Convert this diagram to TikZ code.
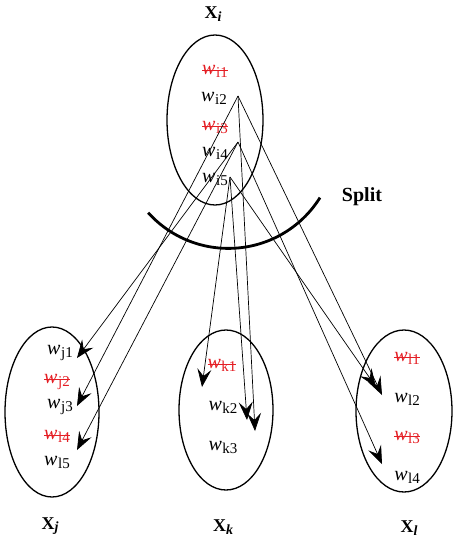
\documentclass[tikz,border=0pt]{standalone}
\usepackage{fontspec}
\setmainfont{Liberation Serif}
\usetikzlibrary{arrows.meta,shapes.geometric}
\definecolor{delred}{RGB}{228,30,36}
\newcommand\wsub[1]{\textit{w}\kern0.5pt\raisebox{-3pt}{\fontsize{15}{15}\selectfont #1}}
\newcommand\wdel[1]{\setbox0=\hbox{\wsub{#1}}\rlap{\rule[3.2pt]{\wd0}{0.8pt}}\box0}
\newcommand\setlab[1]{\textbf{X}\raisebox{-2.5pt}{\fontsize{14}{14}\selectfont\bfseries\itshape #1}}
\begin{document}
\begin{tikzpicture}[x=1pt,y=-1pt,
  setbox/.style={draw, ellipse, line width=1.3pt, inner sep=0pt},
  word/.style={font=\fontsize{20}{20}\selectfont, inner sep=0pt, text=black},
  delword/.style={word, text=delred},
  lab/.style={font=\fontsize{18}{18}\selectfont, inner sep=0pt},
  conn/.style={line width=0.7pt, -{Stealth[length=18pt,width=14pt,inset=7pt]}}]
\useasboundingbox (0,0) rectangle (456,541);
% sets
\node[setbox, minimum width=96pt, minimum height=170pt] (Xi) at (215,120) {};
\node[setbox, minimum width=94pt, minimum height=170pt] (Xj) at (52,412) {};
\node[setbox, minimum width=94pt, minimum height=160pt] (Xk) at (226,410) {};
\node[setbox, minimum width=96pt, minimum height=162pt] (Xl) at (404,411) {};
% set labels
\node[lab] (Li) at (213,14) {\setlab{i}};
\node[lab] (Lj) at (50,526) {\setlab{j}};
\node[lab] (Lk) at (223,527) {\setlab{k}};
\node[lab] (Ll) at (409,528) {\setlab{l}};
% words in X_i
\node[delword] (wi1) at (215,71) {\wdel{i1}};
\node[word] (wi2) at (214,98) {\wsub{i2}};
\node[delword] (wi3) at (215,127) {\wdel{i3}};
\node[word] (wi4) at (215,153) {\wsub{i4}};
\node[word] (wi5) at (215,179) {\wsub{i5}};
% words in X_j
\node[word] (wj1) at (60,353) {\wsub{j1}};
\node[delword] (wj2) at (57,382) {\wdel{j2}};
\node[word] (wj3) at (60,407) {\wsub{j3}};
\node[delword] (wj4) at (57,436) {\wdel{l4}};
\node[word] (wj5) at (57,462) {\wsub{l5}};
% words in X_k
\node[delword] (wk1) at (222,365) {\wdel{k1}};
\node[word] (wk2) at (223,407) {\wsub{k2}};
\node[word] (wk3) at (223,447) {\wsub{k3}};
% words in X_l
\node[delword] (wl1) at (407,358) {\wdel{l1}};
\node[word] (wl2) at (407,399) {\wsub{l2}};
\node[delword] (wl3) at (407,437) {\wdel{l3}};
\node[word] (wl4) at (407,477) {\wsub{l4}};
% split
\draw[line width=2.8pt] plot[domain=32:138,samples=60] ({228.4+108*cos(\x)},{140.4+108*sin(\x)});
\node[font=\fontsize{20}{20}\selectfont\bfseries, inner sep=0pt] (split) at (362,197) {Split};
% source points
\coordinate (s2) at (238,96);
\coordinate (s4) at (238,142);
\coordinate (s5) at (230,177);
% arrow tips
\coordinate (tj1) at (77,358);
\coordinate (tj3) at (77,406);
\coordinate (tj5) at (77,450);
\coordinate (tk1) at (202,387);
\coordinate (tk2a) at (247,420);
\coordinate (tk2b) at (255,431);
\coordinate (tl2a) at (382,395);
\coordinate (tl2b) at (376,387);
\coordinate (tl4) at (382,464);
% connectors
\draw[conn] (s2) -- (tj3);
\draw[conn] (s2) -- (tk2b);
\draw[conn] (s2) -- (tl2a);
\draw[conn] (s4) -- (tj1);
\draw[conn] (s4) -- (tj5);
\draw[conn] (s4) -- (tl4);
\draw[conn] (s5) -- (tk1);
\draw[conn] (s5) -- (tk2a);
\draw[conn] (s5) -- (tl2b);
\end{tikzpicture}
\end{document}
